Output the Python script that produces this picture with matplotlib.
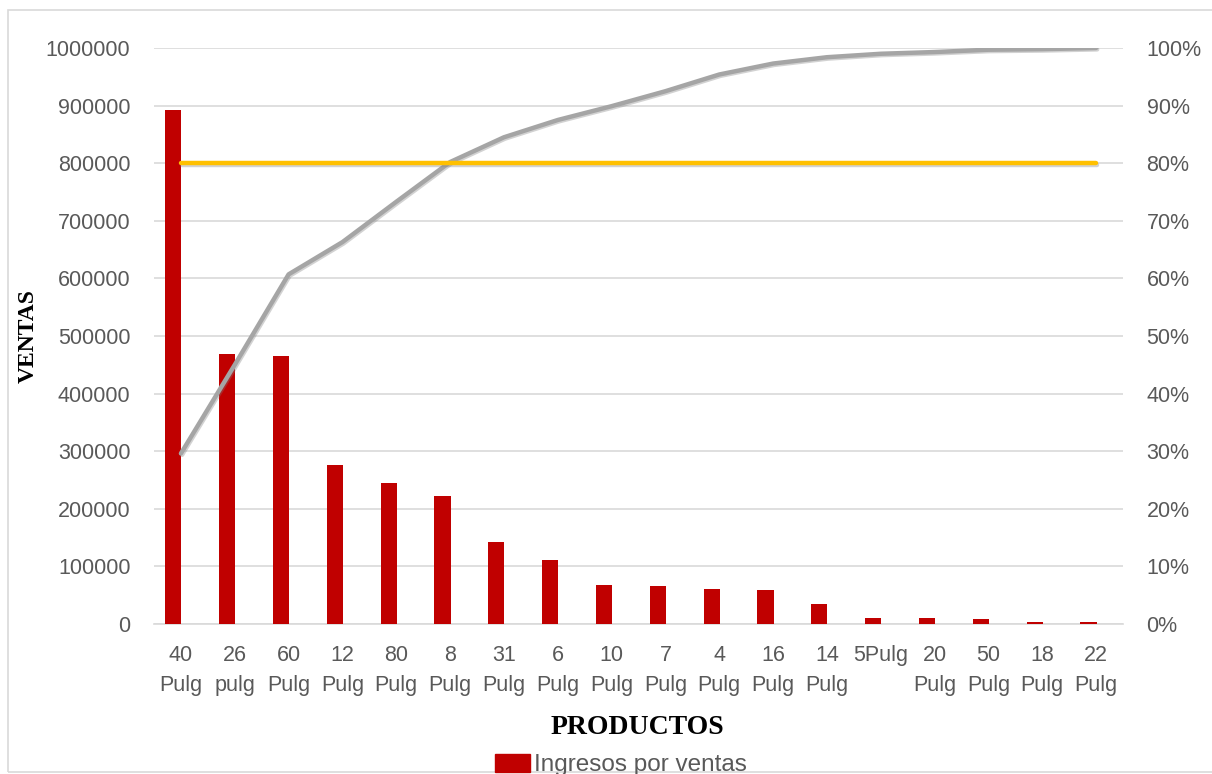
import matplotlib
matplotlib.use("Agg")
import matplotlib.pyplot as plt
import matplotlib.patheffects as pe
from matplotlib.patches import Patch, Rectangle
from matplotlib.ticker import FuncFormatter, MultipleLocator

# ---------------- data ----------------
productos = ["40\nPulg", "26\npulg", "60\nPulg", "12\nPulg", "80\nPulg", "8\nPulg",
             "31\nPulg", "6\nPulg", "10\nPulg", "7\nPulg", "4\nPulg", "16\nPulg",
             "14\nPulg", "5Pulg", "20\nPulg", "50\nPulg", "18\nPulg", "22\nPulg"]
ingresos = [893000, 468000, 466000, 276000, 245000, 223000, 142000, 111000, 67000,
            66000, 61000, 59000, 35000, 11000, 11000, 9500, 3400, 3400]
acumulado = [0.296, 0.45, 0.607, 0.663, 0.733, 0.802, 0.845, 0.875, 0.899,
             0.925, 0.954, 0.973, 0.984, 0.990, 0.993, 0.997, 0.998, 1.0]
meta = [0.8] * len(productos)
left_ticks = list(range(0, 1000001, 100000))

# ---------------- style ----------------
GRAY_TXT = "#595959"
BAR_C = "#c00000"
LINE_C = "#a5a5a5"
META_C = "#ffc000"
GRID_C = "#d9d9d9"
FONT = "Liberation Sans"

fig = plt.figure(figsize=(12.12, 7.74), dpi=100)
fig.patch.set_facecolor("white")
# outer chart border
fig.patches.append(Rectangle((8 / 1212, 2 / 774), 1.5, (764 - 2) / 774 * 1.0,
                             transform=fig.transFigure, fill=False,
                             edgecolor="#d9d9d9", linewidth=1.2))

W, H = 1212, 774
ax_l, ax_r, ax_t, ax_b = 154, 1123, 48, 624
ax = fig.add_axes([ax_l / W, 1 - ax_b / H, (ax_r - ax_l) / W, (ax_b - ax_t) / H])
ax2 = ax.twinx()

x = list(range(len(productos)))
xb = [i - 0.14 for i in x]

shadow = [pe.SimpleLineShadow(offset=(0.8, -1.0), shadow_color="#808080", alpha=0.35),
          pe.Normal()]

ax.bar(xb, ingresos, width=0.3, color=BAR_C, zorder=3)

ax2.plot(x, acumulado, color=LINE_C, linewidth=3.2, solid_capstyle="round",
         zorder=4, path_effects=shadow)
ax2.plot(x, meta, color=META_C, linewidth=3.2, solid_capstyle="round",
         zorder=5, path_effects=shadow)

ax.set_xlim(-0.5, len(productos) - 0.5)
ax.set_ylim(0, 1000000)
ax2.set_ylim(0, 1.0)
ax.set_yticks(left_ticks)
ax.set_yticklabels([str(v) for v in left_ticks])
ax2.yaxis.set_major_locator(MultipleLocator(0.1))
ax2.yaxis.set_major_formatter(FuncFormatter(lambda v, p: f"{int(round(v * 100))}%"))

ax.set_xticks(x)
ax.set_xticklabels(productos, linespacing=1.55)

for a in (ax, ax2):
    for s in a.spines.values():
        s.set_visible(False)
ax.spines["bottom"].set_visible(True)
ax.spines["bottom"].set_color(GRID_C)
ax.spines["bottom"].set_linewidth(1.2)

ax.yaxis.grid(True, color=GRID_C, linewidth=1.2, zorder=0)
ax.set_axisbelow(True)

ax.tick_params(axis="y", length=0, pad=17, labelsize=15.5, labelcolor=GRAY_TXT)
ax2.tick_params(axis="y", length=0, pad=17, labelsize=15.5, labelcolor=GRAY_TXT)
ax.tick_params(axis="x", length=0, pad=15, labelsize=15.5, labelcolor=GRAY_TXT)
for lab in ax.get_yticklabels() + ax2.get_yticklabels() + ax.get_xticklabels():
    lab.set_fontfamily(FONT)

ax2.set_zorder(ax.get_zorder() + 1)
ax2.patch.set_visible(False)

fig.text(28 / W, 1 - 336 / H, "VENTAS", rotation=90, ha="center", va="center",
         fontsize=17, fontweight="bold", family="Liberation Serif", color="black")
fig.text(637 / W, 1 - 727 / H, "PRODUCTOS", ha="center", va="center",
         fontsize=20, fontweight="bold", family="Liberation Serif", color="black")

leg = fig.legend(handles=[Patch(facecolor=BAR_C, edgecolor=BAR_C)],
                 labels=["Ingresos por ventas"], loc="center",
                 bbox_to_anchor=(621 / W, 1 - 765 / H), frameon=False,
                 handlelength=1.45, handleheight=0.75, handletextpad=0.15,
                 borderpad=0, borderaxespad=0,
                 prop={"family": FONT, "size": 17.5})
for t in leg.get_texts():
    t.set_color(GRAY_TXT)

fig.savefig("out.png", dpi=100, facecolor="white")
